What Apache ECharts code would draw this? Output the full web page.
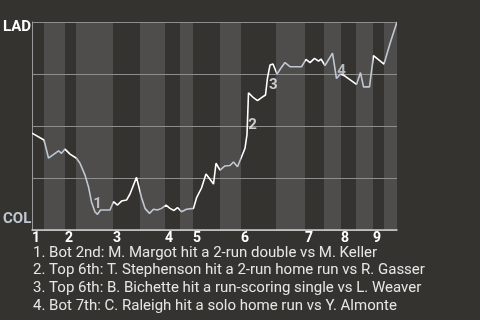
<!DOCTYPE html>
<html>
<head>
<meta charset="utf-8">
<script src="https://cdn.jsdelivr.net/npm/echarts@6/dist/echarts.min.js"></script>
<style>
  html, body { margin: 0; padding: 0; background: #35332f; }
  #chart { width: 480px; height: 320px; }
</style>
</head>
<body>
<div id="chart"></div>
<script>
// ---- data ----
const inningLabels = ['1', '2', '3', '4', '5', '6', '7', '8', '9'];
// game progress (plays) where each half-inning starts/ends
const halfBounds = [0, 2.4, 6.6, 8.8, 16.2, 21.6, 26.6, 29.6, 32.2, 37.6, 41.8, 48.8, 54.6, 58.4, 61.8, 64.8, 68.2, 70.4, 73];
const teamLabels = ['COL', 'LAD'];
// play progress and LAD win probability
const playX = [0, 2.4, 3.3, 5.3, 5.9, 6.6, 7.6, 8.9, 9.6, 10.6, 11.3, 11.9, 12.6, 13.1, 13.7, 15.6, 16.3, 17.1, 17.9, 18.9,
  19.6, 20.9, 21.9, 22.6, 23.5, 24.3, 25.1, 25.9, 26.8, 27.6, 28.4, 29.1, 29.9, 30.9, 32.3, 32.9, 33.9, 34.8, 35.6, 36.3,
  36.8, 37.6, 38.6, 39.6, 40.3, 41.1, 41.9, 42.6, 43.0, 43.3, 44.3, 45.1, 45.9, 46.7, 47.1, 47.6, 48.2, 49.0, 49.8, 50.6,
  51.6, 53.9, 54.8, 55.6, 56.5, 57.3, 57.8, 58.6, 60.1, 60.9, 61.7, 62.6, 64.9, 65.7, 66.3, 67.5, 68.3, 70.4, 71.6, 73];
const ladWinProb = [0.466, 0.433, 0.346, 0.380, 0.369, 0.389, 0.365, 0.345, 0.321, 0.264, 0.207, 0.135, 0.087, 0.075, 0.096, 0.096, 0.136, 0.120, 0.139, 0.144,
  0.173, 0.253, 0.156, 0.104, 0.080, 0.100, 0.096, 0.104, 0.120, 0.104, 0.094, 0.108, 0.088, 0.100, 0.104, 0.154, 0.202, 0.269, 0.244, 0.221,
  0.321, 0.288, 0.308, 0.310, 0.327, 0.304, 0.351, 0.393, 0.459, 0.660, 0.636, 0.622, 0.636, 0.649, 0.731, 0.793, 0.798, 0.750, 0.779, 0.805,
  0.785, 0.785, 0.820, 0.805, 0.825, 0.812, 0.822, 0.791, 0.850, 0.728, 0.750, 0.740, 0.700, 0.757, 0.688, 0.688, 0.838, 0.798, 0.897, 1.0];
const eventIdx = [13, 48, 53, 69];
const eventMarks = ['1', '2', '3', '4'];
const notes = [
  '1. Bot 2nd: M. Margot hit a 2-run double vs M. Keller',
  '2. Top 6th: T. Stephenson hit a 2-run home run vs R. Gasser',
  '3. Top 6th: B. Bichette hit a run-scoring single vs L. Weaver',
  '4. Bot 7th: C. Raleigh hit a solo home run vs Y. Almonte'
];

// ---- styles ----
const BG = '#35332f';
const BAND = '#4e4d4b';
const TOP_C = '#ffffff';
const BOT_C = '#bfc8d2';
const FONT = 'Roboto, "DejaVu Sans", sans-serif';
const labelOffsets = [[0, -10], [5.5, -9.5], [7.8, -10], [5, -7.5]];

const innStarts = halfBounds.filter((v, i) => i % 2 === 0 && i < halfBounds.length - 1);
const bottomHalves = [];
for (let i = 1; i < halfBounds.length - 1; i += 2) bottomHalves.push([halfBounds[i], halfBounds[i + 1]]);
const pieces = [];
for (let i = 0; i < halfBounds.length - 1; i++) {
  const p = { gte: halfBounds[i], color: i % 2 ? BOT_C : TOP_C };
  if (i === halfBounds.length - 2) p.lte = halfBounds[i + 1]; else p.lt = halfBounds[i + 1];
  pieces.push(p);
}
const lineData = playX.map((x, i) => [x, ladWinProb[i]]);
const eventData = eventIdx.map((idx, k) => {
  const half = halfBounds.findIndex((b, j) => j < halfBounds.length - 1 && playX[idx] >= b && playX[idx] < halfBounds[j + 1]);
  return {
    value: [playX[idx], ladWinProb[idx]],
    label: { formatter: eventMarks[k], offset: labelOffsets[k], color: half % 2 ? '#d4dbe2' : '#f2f2f2' }
  };
});

const chart = echarts.init(document.getElementById('chart'), null, { renderer: 'canvas' });
chart.setOption({
  backgroundColor: BG,
  animation: false,
  grid: { left: 32, top: 22, right: 83, bottom: 90, containLabel: false, outerBoundsMode: 'none' },
  xAxis: {
    type: 'value', min: 0, max: halfBounds[halfBounds.length - 1],
    splitLine: { show: false },
    axisTick: { show: false },
    axisLine: { show: true, lineStyle: { color: '#d0d0d0', width: 1.5 } },
    axisLabel: {
      customValues: innStarts,
      formatter: v => inningLabels[innStarts.indexOf(v)],
      align: 'left', margin: 1,
      color: '#ffffff', fontWeight: 'bold', fontSize: 14, fontFamily: FONT
    }
  },
  yAxis: {
    type: 'value', min: 0, max: 1, interval: 0.25,
    axisLabel: { show: false },
    axisTick: { show: false },
    axisLine: { show: true, lineStyle: { color: '#9a9a9a', width: 1 } },
    splitLine: { show: true, lineStyle: { color: '#8e8e8e', width: 1 } }
  },
  visualMap: {
    show: false, type: 'piecewise', dimension: 0, seriesIndex: 1, pieces: pieces
  },
  series: [
    {
      type: 'custom', z: -1, silent: true,
      data: bottomHalves,
      encode: { x: [0, 1] },
      renderItem: (params, api) => {
        const a = api.coord([api.value(0), 1]);
        const b = api.coord([api.value(1), 0]);
        return { type: 'rect', shape: { x: a[0], y: a[1], width: b[0] - a[0], height: b[1] - a[1] }, style: { fill: BAND } };
      }
    },
    {
      type: 'line', data: lineData, showSymbol: false, symbol: 'none',
      lineStyle: { width: 1.6 }, z: 3
    },
    {
      type: 'scatter', data: eventData, symbolSize: 0, z: 4,
      label: { show: true, position: 'inside', fontWeight: 'bold', fontSize: 15, fontFamily: FONT }
    }
  ],
  graphic: [
    { type: 'text', left: 3, top: 20, style: { text: teamLabels[1], fill: '#ffffff', font: 'bold 15px ' + FONT } },
    { type: 'text', left: 3, top: 212, style: { text: teamLabels[0], fill: BOT_C, font: 'bold 15px ' + FONT } },
    { type: 'text', left: 33, top: 244, style: { text: notes.join('\n'), fill: '#e6e6e6', font: '15px ' + FONT, lineHeight: 17.8 } }
  ]
});
</script>
</body>
</html>
